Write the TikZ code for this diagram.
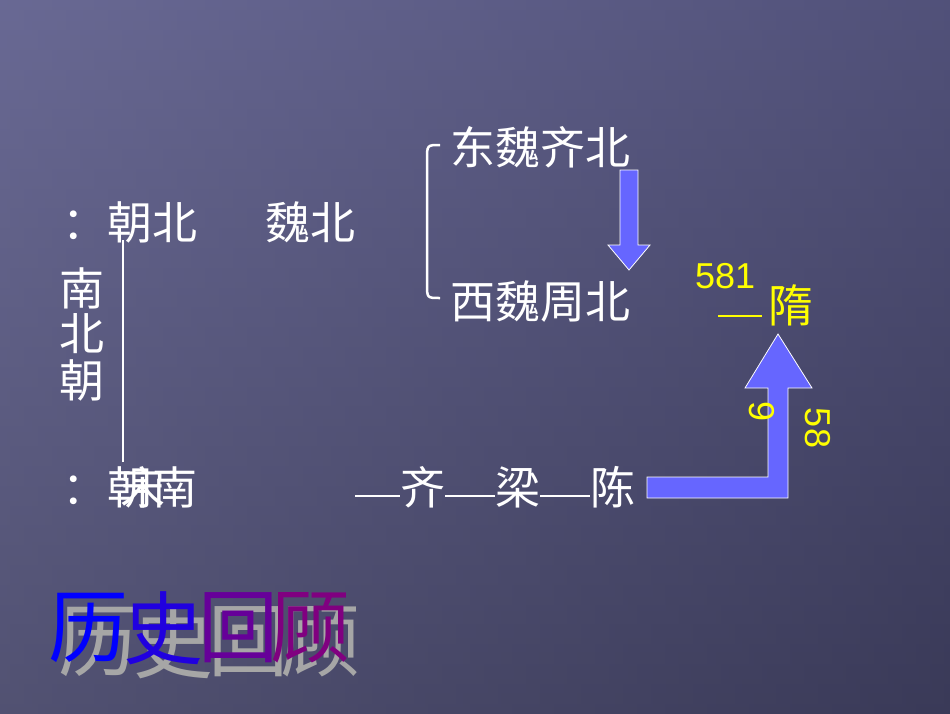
\documentclass[tikz,border=0pt]{standalone}
\usepackage{fontspec}
\newfontfamily\cjk{Noto Sans CJK SC}
\setmainfont{Liberation Sans}
\definecolor{bgA}{HTML}{5E5E8C}
\definecolor{bgB}{HTML}{3A3A58}
\definecolor{arr}{HTML}{6666FF}
\definecolor{yel}{HTML}{FFFF00}
\tikzset{
  wt/.style={text=white,font=\cjk\fontsize{45}{45}\selectfont,inner sep=0pt,anchor=west},
  yt/.style={text=yel,font=\fontsize{36}{36}\selectfont,inner sep=0pt},
  arrowshape/.style={fill=arr,draw=white,line width=0.8pt},
  big/.style={font=\cjk\fontsize{80}{80}\selectfont,inner sep=0pt},
  dsh/.style={white,line width=1.2pt}
}
\begin{document}
\begin{tikzpicture}[x=1pt,y=-1pt]
\shade[top color=bgA,bottom color=bgB] (0,0) rectangle (950,713);
\shade[left color=bgA!80!white,right color=bgB,opacity=0.35] (0,0) rectangle (950,713);
\useasboundingbox (0,0) rectangle (950,713);
% left part
\node[wt] (n1) at (62,222) {：朝北};
\node[wt] (n2) at (265,222) {魏北};
\node[wt,anchor=center] (v1a) at (82,288) {南};
\node[wt,anchor=center] (v1b) at (82,334) {北};
\node[wt,anchor=center] (v1c) at (82,380) {朝};
\coordinate (la) at (123,240);
\coordinate (lb) at (123,462);
\draw[white,line width=2.5pt] (la) -- (lb);
\node[wt] (s1) at (62,487) {：朝南};
\node[wt] (s2) at (120,487) {宋};
% bottom line
\node[wt] (q) at (400,487) {齐};
\node[wt] (l) at (495,487) {梁};
\node[wt] (c) at (590,487) {陈};
\coordinate (d0) at (355,496);
\draw[dsh] (d0) -- (q.west |- d0);
\draw[dsh] (q.east |- d0) -- (l.west |- d0);
\draw[dsh] (l.east |- d0) -- (c.west |- d0);
% bracket
\coordinate (b1) at (440,145);
\coordinate (b2) at (440,298);
\draw[white,line width=2.5pt] (b1) .. controls (427,145) .. (427,160) -- (427,284) .. controls (427,298) .. (b2);
\node[wt] (e1) at (450,147) {东魏齐北};
\node[wt] (w1) at (450,302) {西魏周北};
% down arrow
\draw[arrowshape] (620,170) -- (638,170) -- (638,245) -- (650,245) -- (629,270) -- (608,245) -- (620,245) -- cycle;
% up arrow
\draw[arrowshape] (647,477) -- (768,477) -- (768,388) -- (745,388) -- (778,334) -- (812,388) -- (788,388) -- (788,498) -- (647,498) -- cycle;
% yellow
\node[yt,anchor=west] (y1) at (695,276) {581};
\coordinate (yd) at (718,316);
\draw[yel,line width=1.2pt] (yd) -- ++(44,0);
\node[text=yel,font=\cjk\fontsize{45}{45}\selectfont,inner sep=0pt,anchor=west] (sui) at (768,305) {隋};
\node[yt,rotate=-90] (r1) at (818,428) {58};
\node[yt,rotate=-90] (r2) at (762,412) {9};
% title
\foreach \c/\x/\col in {历/88/blue,史/163/blue!75!violet,回/238/violet!80!blue,顾/310/violet}{
  \node[big,text=gray!70] at (\x+10,642) {\c};
  \node[big,text=\col] at (\x,628) {\c};
}
\end{tikzpicture}
\end{document}
